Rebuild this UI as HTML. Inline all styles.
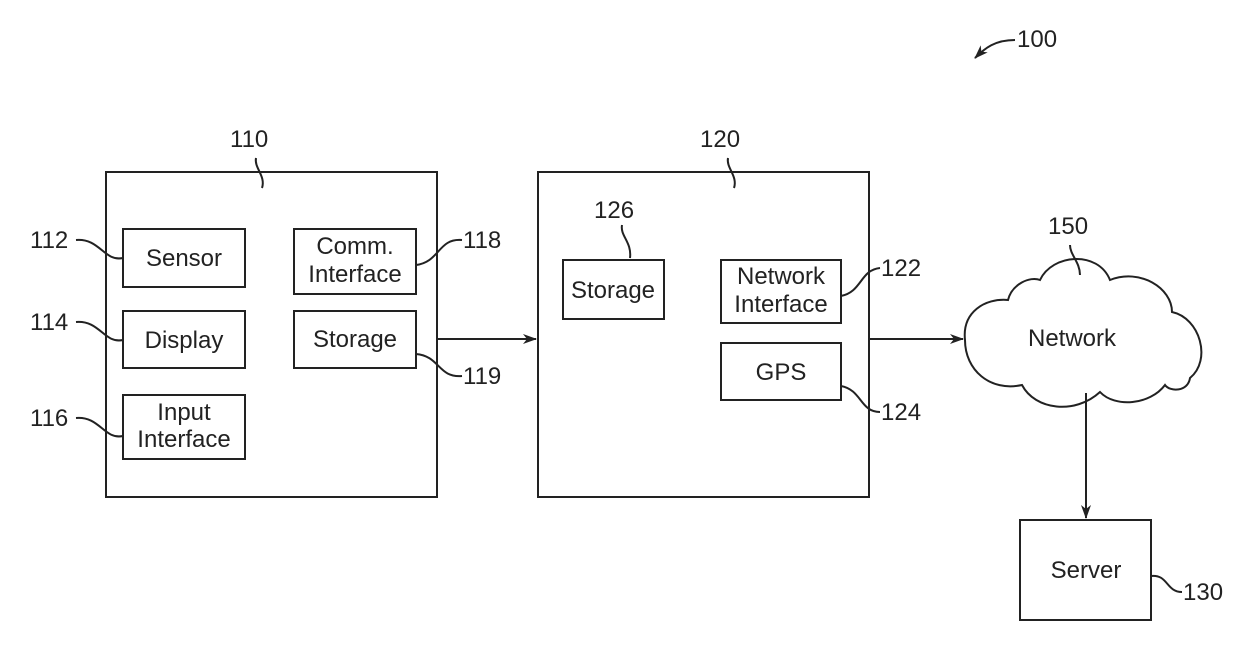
<!DOCTYPE html>
<html><head><style>
html,body{margin:0;padding:0;background:#fff;}
svg{display:block;}
text{font-family:"Liberation Sans",sans-serif;font-size:24px;fill:#222;}
</style></head><body>
<svg width="1240" height="650" viewBox="0 0 1240 650">
<defs><marker id="a" markerWidth="14" markerHeight="10" refX="13" refY="5" orient="auto" markerUnits="userSpaceOnUse"><path d="M0,0 L14,5 L0,10 L4,5 Z" fill="#222"/></marker></defs>
<g fill="none" stroke="#222" stroke-width="2">
<rect x="106" y="172" width="331" height="325"/>
<rect x="123" y="229" width="122" height="58"/>
<rect x="123" y="311" width="122" height="57"/>
<rect x="123" y="395" width="122" height="64"/>
<rect x="294" y="229" width="122" height="65"/>
<rect x="294" y="311" width="122" height="57"/>
<rect x="538" y="172" width="331" height="325"/>
<rect x="563" y="260" width="101" height="59"/>
<rect x="721" y="260" width="120" height="63"/>
<rect x="721" y="343" width="120" height="57"/>
<rect x="1020" y="520" width="131" height="100"/>
<path d="M437 339 L536 339" marker-end="url(#a)"/>
<path d="M869 339 L963 339" marker-end="url(#a)"/>
<path d="M1086 393 L1086 518" marker-end="url(#a)"/>
<path d="M965 340 C962 312 985 298 1008 300 C1012 284 1030 276 1040 280 C1052 254 1098 250 1110 280 C1140 268 1172 288 1172 312 C1200 318 1212 360 1190 378 C1188 392 1170 392 1165 385 C1150 405 1115 408 1100 392 C1075 415 1035 410 1022 385 C990 392 965 370 965 340 Z"/>
<path d="M262 188 C266 176 254 168 256 158"/>
<path d="M734 188 C738 176 726 168 728 158"/>
<path d="M630 258 C632 242 620 236 622 225"/>
<path d="M1080 275 C1080 262 1070 255 1070 245"/>
<path d="M76 240 C100 238 104 262 123 258"/>
<path d="M76 322 C100 320 104 344 123 340"/>
<path d="M76 418 C100 416 104 440 123 436"/>
<path d="M416 265 C440 262 438 238 462 240"/>
<path d="M416 354 C440 356 438 378 462 376"/>
<path d="M841 296 C862 292 860 270 880 268"/>
<path d="M841 386 C862 390 860 412 880 412"/>
<path d="M1151 576 C1168 574 1166 592 1182 592"/>
<path d="M1015 40 C995 40 985 48 975 58" marker-end="url(#a)"/>
</g>
<text x="1017" y="47">100</text>
<text x="230" y="147">110</text>
<text x="700" y="147">120</text>
<text x="594" y="218">126</text>
<text x="1048" y="234">150</text>
<text x="30" y="248">112</text>
<text x="30" y="330">114</text>
<text x="30" y="426">116</text>
<text x="463" y="248">118</text>
<text x="463" y="384">119</text>
<text x="881" y="276">122</text>
<text x="881" y="420">124</text>
<text x="1183" y="600">130</text>
<g text-anchor="middle">
<text x="184" y="266">Sensor</text>
<text x="184" y="348">Display</text>
<text x="184" y="420">Input</text><text x="184" y="447">Interface</text>
<text x="355" y="254">Comm.</text><text x="355" y="282">Interface</text>
<text x="355" y="347">Storage</text>
<text x="613" y="298">Storage</text>
<text x="781" y="284">Network</text><text x="781" y="312">Interface</text>
<text x="781" y="380">GPS</text>
<text x="1072" y="346">Network</text>
<text x="1086" y="578">Server</text>
</g>
</svg>
</body></html>
